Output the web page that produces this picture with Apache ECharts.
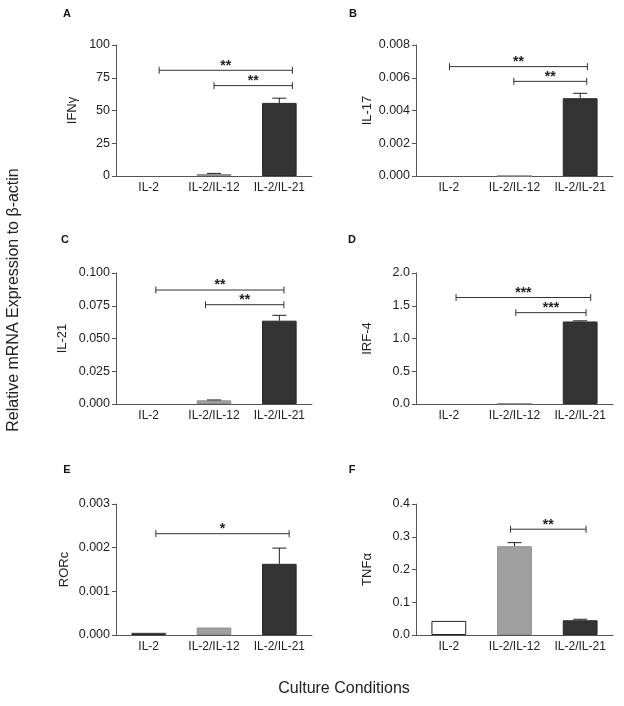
<!DOCTYPE html>
<html><head><meta charset="utf-8">
<script src="https://cdn.jsdelivr.net/npm/echarts@6/dist/echarts.min.js"></script>
<style>html,body{margin:0;padding:0;background:#fff}#c{width:624px;height:706px}</style>
</head><body><div id="c"></div>
<script>
// ---------- data ----------
const categories = ['IL-2', 'IL-2/IL-12', 'IL-2/IL-21'];

const ifngMean = [0, 1.5, 55.8];
const ifngSem = [0, 0.5, 3.6];
const ifngTicks = [0, 25, 50, 75, 100];
const ifngBrackets = [[0.16, 2.2, 80.7, '**'], [1.0, 2.2, 69, '**']];

const il17Mean = [0, 0.00001, 0.00475];
const il17Sem = [0, 0, 0.0003];
const il17Ticks = [0, 0.002, 0.004, 0.006, 0.008];
const il17Brackets = [[0.01, 2.11, 0.00668, '**'], [0.99, 2.1, 0.00578, '**']];

const il21Mean = [0, 0.0028, 0.0636];
const il21Sem = [0, 0.0003, 0.0041];
const il21Ticks = [0, 0.025, 0.05, 0.075, 0.1];
const il21Brackets = [[0.11, 2.07, 0.087, '**'], [0.87, 2.07, 0.0758, '**']];

const irf4Mean = [0, 0.01, 1.26];
const irf4Sem = [0, 0, 0.01];
const irf4Ticks = [0, 0.5, 1.0, 1.5, 2.0];
const irf4Brackets = [[0.11, 2.16, 1.626, '***'], [1.02, 2.09, 1.395, '***']];

const rorcMean = [0.00005, 0.00017, 0.00163];
const rorcSem = [0, 0, 0.00036];
const rorcTicks = [0, 0.001, 0.002, 0.003];
const rorcBrackets = [[0.11, 2.15, 0.00232, '*']];

const tnfMean = [0.043, 0.271, 0.045];
const tnfSem = [0, 0.011, 0.003];
const tnfTicks = [0, 0.1, 0.2, 0.3, 0.4];
const tnfBrackets = [[0.94, 2.09, 0.323, '**']];

const yTitle = 'Relative mRNA Expression to β-actin';
const xTitle = 'Culture Conditions';

// ---------- layout / styles ----------
const FONT = "'Liberation Sans', Arial, sans-serif";
const barColors = ['#ffffff', '#a0a0a0', '#333333'];
const barBorders = ['#222222', '#8e8e8e', '#2a2a2a'];
const AX = '#555';

const panels = [
  {letter: 'A', name: 'IFNγ', mean: ifngMean, sem: ifngSem, ticks: ifngTicks, dec: 0, brackets: ifngBrackets,
   grid: {left: 116, top: 45, width: 196, height: 131}, nameGap: 37, lp: [67, 14]},
  {letter: 'B', name: 'IL-17', mean: il17Mean, sem: il17Sem, ticks: il17Ticks, dec: 3, brackets: il17Brackets,
   grid: {left: 416, top: 45, width: 197, height: 131}, nameGap: 42.5, lp: [353, 14]},
  {letter: 'C', name: 'IL-21', mean: il21Mean, sem: il21Sem, ticks: il21Ticks, dec: 3, brackets: il21Brackets,
   grid: {left: 116, top: 273, width: 196, height: 131}, nameGap: 47, lp: [65, 240]},
  {letter: 'D', name: 'IRF-4', mean: irf4Mean, sem: irf4Sem, ticks: irf4Ticks, dec: 1, brackets: irf4Brackets,
   grid: {left: 416, top: 273, width: 197, height: 131}, nameGap: 42.5, lp: [352, 240]},
  {letter: 'E', name: 'RORc', mean: rorcMean, sem: rorcSem, ticks: rorcTicks, dec: 3, brackets: rorcBrackets,
   grid: {left: 116, top: 504, width: 196, height: 131}, nameGap: 45, lp: [67, 470]},
  {letter: 'F', name: 'TNFα', mean: tnfMean, sem: tnfSem, ticks: tnfTicks, dec: 1, brackets: tnfBrackets,
   grid: {left: 416, top: 504, width: 197, height: 131}, nameGap: 42.5, lp: [352, 470]}
];

const grids = [], xAxes = [], yAxes = [], series = [], graphics = [];

panels.forEach((p, gi) => {
  grids.push(Object.assign({containLabel: false}, p.grid));
  xAxes.push({
    type: 'category', gridIndex: gi, data: categories, boundaryGap: true,
    axisLine: {lineStyle: {color: AX, width: 1}},
    axisTick: {alignWithLabel: true, length: 4, lineStyle: {color: AX}},
    axisLabel: {color: '#222', fontSize: 12, fontFamily: FONT, margin: 6, interval: 0}
  });
  const interval = p.ticks[1] - p.ticks[0];
  yAxes.push({
    type: 'value', gridIndex: gi, min: p.ticks[0], max: p.ticks[p.ticks.length - 1], interval: interval,
    name: p.name, nameLocation: 'middle', nameGap: p.nameGap, nameRotate: 90,
    nameTextStyle: {color: '#222', fontSize: 13, fontFamily: FONT},
    splitLine: {show: false},
    axisLine: {show: true, lineStyle: {color: AX, width: 1}},
    axisTick: {show: true, length: 4, lineStyle: {color: AX}},
    axisLabel: {color: '#222', fontSize: 12.5, fontFamily: FONT, margin: 6,
      formatter: v => v.toFixed(p.dec)}
  });
  series.push({
    type: 'bar', xAxisIndex: gi, yAxisIndex: gi, barWidth: '53%', animation: false,
    data: p.mean.map((v, i) => ({value: v, itemStyle: {color: barColors[i], borderColor: barBorders[i], borderWidth: v > 0 ? 1 : 0}}))
  });
  series.push({
    type: 'custom', xAxisIndex: gi, yAxisIndex: gi, animation: false, silent: true, z: 5,
    encode: {x: 0, y: 1},
    data: p.mean.map((v, i) => [i, v + p.sem[i], p.sem[i], v]),
    renderItem: (params, api) => {
      const i = api.value(0), top = api.value(1), s = api.value(2), m = api.value(3);
      if (!s) return null;
      const p0 = api.coord([i, m]);
      const p1 = api.coord([i, top]);
      return {type: 'group', children: [
        {type: 'line', shape: {x1: p0[0], y1: p0[1], x2: p1[0], y2: p1[1]}, style: {stroke: '#222', lineWidth: 1}},
        {type: 'line', shape: {x1: p1[0] - 7, y1: p1[1], x2: p1[0] + 7, y2: p1[1]}, style: {stroke: '#222', lineWidth: 1}}
      ]};
    }
  });
  series.push({
    type: 'custom', xAxisIndex: gi, yAxisIndex: gi, animation: false, silent: true, z: 6,
    encode: {x: 0, y: 1},
    data: p.brackets.map(b => [Math.round(b[0]), b[2]]),
    renderItem: (params, api) => {
      const b = p.brackets[params.dataIndex];
      const band = api.size([1, 0])[0];
      const c0 = api.coord([0, b[2]]);
      const xa = c0[0] + b[0] * band, xb = c0[0] + b[1] * band, y = c0[1];
      return {type: 'group', children: [
        {type: 'line', shape: {x1: xa, y1: y, x2: xb, y2: y}, style: {stroke: '#333', lineWidth: 1}},
        {type: 'line', shape: {x1: xa, y1: y - 3.5, x2: xa, y2: y + 3.5}, style: {stroke: '#333', lineWidth: 1}},
        {type: 'line', shape: {x1: xb, y1: y - 3.5, x2: xb, y2: y + 3.5}, style: {stroke: '#333', lineWidth: 1}},
        {type: 'text', style: {text: b[3], x: (xa + xb) / 2, y: y - 4.5, align: 'center', verticalAlign: 'middle',
          fontSize: 14, fontWeight: 'bold', fontFamily: FONT, fill: '#222'}}
      ]};
    }
  });
  graphics.push({type: 'text', x: p.lp[0], y: p.lp[1],
    style: {text: p.letter, align: 'center', verticalAlign: 'middle', fontSize: 11, fontWeight: 'bold', fontFamily: FONT, fill: '#111'}});
});

graphics.push({type: 'text', x: 14, y: 300, rotation: Math.PI / 2,
  style: {text: yTitle, align: 'center', verticalAlign: 'middle', fontSize: 16, fontFamily: FONT, fill: '#222'}});
graphics.push({type: 'text', x: 344, y: 689,
  style: {text: xTitle, align: 'center', verticalAlign: 'middle', fontSize: 16, fontFamily: FONT, fill: '#222'}});

const chart = echarts.init(document.getElementById('c'), null, {renderer: 'canvas'});
chart.setOption({
  backgroundColor: '#fff',
  animation: false,
  grid: grids, xAxis: xAxes, yAxis: yAxes, series: series, graphic: graphics
});
</script></body></html>
